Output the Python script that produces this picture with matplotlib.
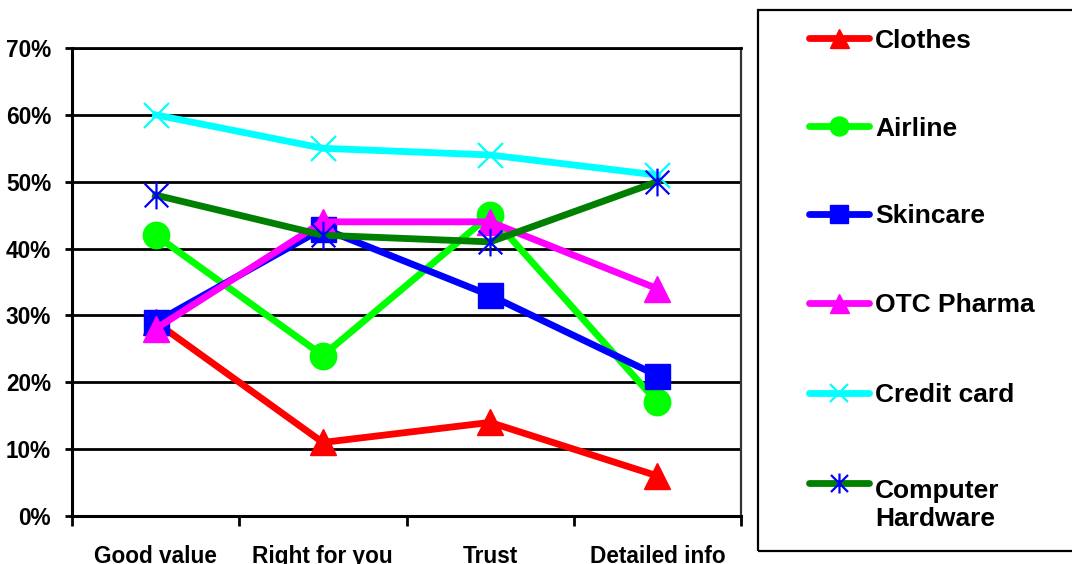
import matplotlib
matplotlib.use("Agg")
import matplotlib.pyplot as plt
from matplotlib.lines import Line2D
from matplotlib.patches import Rectangle
from matplotlib.path import Path
from matplotlib.ticker import FixedLocator, PercentFormatter

plt.rcParams["font.family"] = ["Liberation Sans", "DejaVu Sans"]
plt.rcParams["font.weight"] = "bold"

# Data (percent of respondents)
categories = ["Good value", "Right for you", "Trust", "Detailed info"]
series_names = ["Clothes", "Airline", "Skincare", "OTC Pharma", "Credit card", "Computer\nHardware"]
clothes = [29, 11, 14, 6]
airline = [42, 24, 45, 17]
skincare = [29, 43, 33, 21]
otc_pharma = [28, 44, 44, 34]
credit_card = [60, 55, 54, 51]
computer_hardware = [48, 42, 41, 50]
y_ticks = [0, 10, 20, 30, 40, 50, 60, 70]

# Excel-style asterisk: vertical bar plus a diagonal cross
star = Path([(0, -1), (0, 1), (-0.85, -0.85), (0.85, 0.85), (-0.85, 0.85), (0.85, -0.85)],
            [Path.MOVETO, Path.LINETO, Path.MOVETO, Path.LINETO, Path.MOVETO, Path.LINETO])

styles = [
    dict(color="#FF0000", marker="^", mfc="#FF0000", mec="#FF0000", ms=19, mew=1),
    dict(color="#00FF00", marker="o", mfc="#00FF00", mec="#00FF00", ms=19, mew=1),
    dict(color="#0000FF", marker="s", mfc="#0000FF", mec="#0000FF", ms=18, mew=1),
    dict(color="#FF00FF", marker="^", mfc="#FF00FF", mec="#FF00FF", ms=19, mew=1),
    dict(color="#00FFFF", marker="x", mfc="none", mec="#00FFFF", ms=18, mew=1.6),
    dict(color="#008000", marker=star, mfc="none", mec="#0000FF", ms=20, mew=1.6),
]
values = [clothes, airline, skincare, otc_pharma, credit_card, computer_hardware]

W, H = 1072, 564
fig = plt.figure(figsize=(W / 100, H / 100), dpi=100)


def fx(px):
    return px / W


def fy(py):
    return 1 - py / H


ax = fig.add_axes([fx(72), fy(516), fx(741) - fx(72), fy(48) - fy(516)])

x = list(range(len(categories)))
for vals, st in zip(values, styles):
    ax.plot(x, vals, lw=4.9, solid_joinstyle="round", clip_on=False, **st)

ax.set_xlim(-0.5, len(categories) - 0.5)
ax.set_ylim(0, 70)
ax.yaxis.set_major_locator(FixedLocator(y_ticks))
ax.yaxis.set_major_formatter(PercentFormatter(decimals=0))
ax.grid(axis="y", color="black", lw=2.0)
ax.set_axisbelow(True)

ax.set_xticks(x)
ax.set_xticklabels(categories)
ax.set_xticks([i - 0.5 for i in range(len(categories) + 1)], minor=True)
ax.tick_params(axis="x", which="major", length=0, pad=21, labelsize=16.3)
ax.tick_params(axis="x", which="minor", length=7, width=2.0, direction="out")
ax.tick_params(axis="y", length=5, width=2.0, direction="out", pad=10, labelsize=16.3)
for lab in ax.get_xticklabels() + ax.get_yticklabels():
    lab.set_fontweight("bold")

for side in ["left", "bottom"]:
    ax.spines[side].set_linewidth(2.2)
    ax.spines[side].set_color("black")
ax.spines["top"].set_linewidth(2.0)
ax.spines["right"].set_linewidth(1.6)
ax.spines["right"].set_color("#333333")

# Legend panel
fig.add_artist(Rectangle((fx(758), fy(551)), fx(1090) - fx(758), fy(10) - fy(551),
                         transform=fig.transFigure, fill=False, ec="black", lw=1.6))
row_y = [38, 126, 214, 303, 393, 483]
line_step = 34
for name, st, ry in zip(series_names, styles, row_y):
    leg_st = dict(st)
    leg_st["ms"] = st["ms"] * 0.72
    # handle line with its marker at the centre
    fig.add_artist(Line2D([fx(809), fx(839), fx(869)], [fy(ry)] * 3, transform=fig.transFigure,
                          lw=4.9, solid_capstyle="round", markevery=[1], **leg_st))
    n_extra = name.count("\n")
    fig.text(fx(875), fy(ry + 9.5 + line_step * n_extra), name, fontsize=19, fontweight="bold",
             ha="left", va="baseline", linespacing=1.25)

fig.savefig("out.png", dpi=100)
